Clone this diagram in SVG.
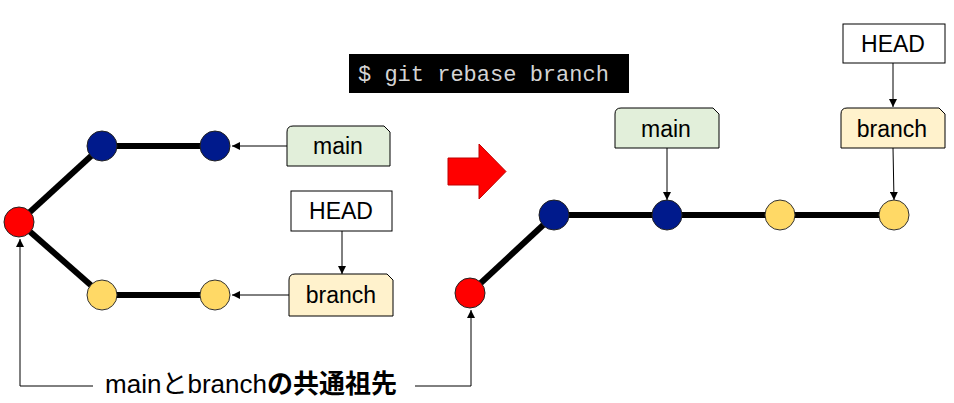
<svg xmlns="http://www.w3.org/2000/svg" width="954" height="403" viewBox="0 0 954 403">
<style>
.edge{stroke:#000;stroke-width:6;fill:none}
.thin{stroke:#000;stroke-width:1;fill:none}
.blue{fill:#001A8C;stroke:#222;stroke-width:1}
.yel{fill:#FFD966;stroke:#333;stroke-width:1}
.red{fill:#FF0000;stroke:#222;stroke-width:1}
.lab{font-family:"Liberation Sans",Arial,sans-serif;font-size:23px;fill:#000;text-anchor:middle}
.gbox{fill:#E2EFDA;stroke:#000;stroke-width:1}
.ybox{fill:#FFF2CC;stroke:#000;stroke-width:1}
.wbox{fill:#fff;stroke:#000;stroke-width:1}
</style>
<defs>
<marker id="ah" viewBox="0 0 10 10" refX="10" refY="5" markerWidth="8" markerHeight="8" markerUnits="userSpaceOnUse" orient="auto">
<path d="M0,0 L10,5 L0,10 z" fill="#000"/>
</marker>
</defs>
<g id="connectors">
<line class="edge" x1="19" y1="222" x2="102" y2="146"/>
<line class="edge" x1="102" y1="146" x2="215" y2="146"/>
<line class="edge" x1="19" y1="222" x2="102" y2="295"/>
<line class="edge" x1="102" y1="295" x2="215" y2="295"/>
<line class="edge" x1="470" y1="293" x2="554" y2="215"/>
<line class="edge" x1="554" y1="215" x2="894" y2="215"/>
<line class="thin" x1="287" y1="146" x2="232" y2="146" marker-end="url(#ah)"/>
<line class="thin" x1="342" y1="231" x2="342" y2="274" marker-end="url(#ah)"/>
<line class="thin" x1="289" y1="295" x2="232" y2="295" marker-end="url(#ah)"/>
<line class="thin" x1="667" y1="148" x2="667" y2="200" marker-end="url(#ah)"/>
<line class="thin" x1="893" y1="63" x2="893" y2="107" marker-end="url(#ah)"/>
<line class="thin" x1="893" y1="148" x2="894" y2="200" marker-end="url(#ah)"/>
<polyline class="thin" points="93,386 20,386 20,239" marker-end="url(#ah)"/>
<polyline class="thin" points="415,386 471,386 471,310" marker-end="url(#ah)"/>
</g>
<g id="L-base"><circle class="red" cx="19" cy="222" r="15"/></g>
<g id="L-main1"><circle class="blue" cx="102" cy="146" r="15"/></g>
<g id="L-main2"><circle class="blue" cx="215" cy="146" r="15"/></g>
<g id="L-br1"><circle class="yel" cx="102" cy="295" r="15"/></g>
<g id="L-br2"><circle class="yel" cx="215" cy="295" r="15"/></g>
<g id="L-mainlabel">
<path class="gbox" d="M293,126 H384 L390,132 V166 H287 V132 Q287,126 293,126 Z"/>
<text class="lab" x="338" y="154">main</text>
</g>
<g id="L-head">
<rect class="wbox" x="291" y="191" width="101" height="40"/>
<text class="lab" x="341" y="219">HEAD</text>
</g>
<g id="L-branchlabel">
<path class="ybox" d="M295,274 H387 L393,280 V316 H289 V280 Q289,274 295,274 Z"/>
<text class="lab" x="341" y="303">branch</text>
</g>
<g id="cmd">
<rect x="349" y="54" width="280" height="39" fill="#000"/>
<text x="358" y="81" font-family="'Liberation Mono','DejaVu Sans Mono',monospace" font-size="22" fill="#D4D4D4">$ git rebase branch</text>
</g>
<g id="bigarrow">
<path d="M448,158 H479 V144 L506,171.5 L479,199 V185 H448 Z" fill="#FF0000" stroke="#C00000" stroke-width="1"/>
</g>
<g id="R-base"><circle class="red" cx="470" cy="293" r="15"/></g>
<g id="R-main1"><circle class="blue" cx="554" cy="215" r="15"/></g>
<g id="R-main2"><circle class="blue" cx="667" cy="215" r="15"/></g>
<g id="R-br1"><circle class="yel" cx="780" cy="215" r="15"/></g>
<g id="R-br2"><circle class="yel" cx="894" cy="215" r="15"/></g>
<g id="R-mainlabel">
<path class="gbox" d="M621,108 H713 L719,114 V148 H615 V114 Q615,108 621,108 Z"/>
<text class="lab" x="666" y="137">main</text>
</g>
<g id="R-head">
<rect class="wbox" x="843" y="24" width="102" height="39"/>
<text class="lab" x="893" y="52">HEAD</text>
</g>
<g id="R-branchlabel">
<path class="ybox" d="M847,108 H939 L945,114 V148 H841 V114 Q841,108 847,108 Z"/>
<text class="lab" x="892" y="137">branch</text>
</g>
<g id="caption">
<text x="251" y="393" text-anchor="middle" font-family="'Liberation Sans','Noto Sans CJK JP',sans-serif" font-size="26" fill="#000">mainとbranch<tspan font-weight="700">の共通祖先</tspan></text>
</g>
</svg>
